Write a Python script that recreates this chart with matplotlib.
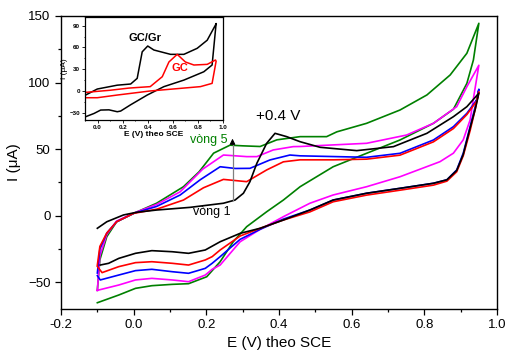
import numpy as np
import matplotlib
matplotlib.use("Agg")
import matplotlib.pyplot as plt
from matplotlib.ticker import MultipleLocator

plt.rcParams['font.family'] = ['Liberation Sans', 'DejaVu Sans']

# cyclic voltammograms, vong 1 .. vong 5 (forward scan then reverse scan)
E_up_black = [-0.1, -0.074, -0.028, 0.008, 0.063, 0.155, 0.247, 0.279, 0.302, 0.32, 0.339, 0.357, 0.366, 0.389,
              0.421, 0.458, 0.513, 0.614, 0.715, 0.807, 0.88, 0.917, 0.95]
I_up_black = [-9.4, -4.5, 0.6, 2.6, 4.3, 6.3, 9.4, 11.8, 16.9, 25.6, 39.4, 49.4, 54.4, 61.9,
              59.4, 55.6, 51.4, 48.9, 51.9, 61.9, 74.4, 81.9, 92]
E_dn_black = [0.95, 0.94, 0.926, 0.907, 0.889, 0.862, 0.825, 0.733, 0.641, 0.549, 0.485, 0.412, 0.348, 0.293,
              0.238, 0.197, 0.151, 0.106, 0.05, 0.005, -0.041, -0.069, -0.092]
I_dn_black = [92, 80, 66, 46, 34, 27, 24.4, 20.6, 16.9, 11.8, 4.3, -3.2, -9.4, -13.2,
              -19.5, -25.7, -28.2, -27, -26.2, -28.2, -32, -35.7, -37]

E_up_red = [-0.1, -0.093, -0.074, -0.047, 0.0, 0.063, 0.137, 0.192, 0.247, 0.311, 0.366, 0.412, 0.458,
            0.55, 0.641, 0.733, 0.825, 0.88, 0.917, 0.944, 0.95]
I_up_red = [-37, -23, -13, -4.5, 1.8, 4.9, 11.8, 21, 27.3, 25.6, 34.4, 40.5, 42,
            42, 42.5, 45.5, 55.5, 65.5, 76, 86, 93]
E_dn_red = [0.95, 0.94, 0.926, 0.907, 0.889, 0.862, 0.825, 0.733, 0.641, 0.549, 0.485, 0.412, 0.348, 0.293,
            0.238, 0.216, 0.197, 0.151, 0.106, 0.05, 0.005, -0.041, -0.087, -0.1]
I_dn_red = [93, 80, 64, 45, 33, 26, 23, 19.2, 15.5, 10.5, 2.9, -3.2, -9.4, -15.2,
            -25.7, -30.7, -33.2, -37, -35.7, -34.5, -35.2, -38.2, -42.7, -38]

E_up_blue = [-0.1, -0.093, -0.074, -0.047, 0.0, 0.063, 0.128, 0.183, 0.238, 0.28, 0.32, 0.375, 0.43, 0.458,
             0.641, 0.733, 0.825, 0.88, 0.917, 0.944, 0.95]
I_up_blue = [-43, -25, -13, -4.5, 1.8, 7, 15.6, 27, 36.8, 35.5, 35.6, 41.9, 45.6, 45,
             43.9, 46.9, 56.9, 66.9, 76.9, 87, 95]
E_dn_blue = [0.95, 0.94, 0.926, 0.907, 0.889, 0.862, 0.825, 0.733, 0.641, 0.549, 0.485, 0.412, 0.348, 0.293,
             0.238, 0.216, 0.197, 0.151, 0.106, 0.05, 0.005, -0.041, -0.092, -0.1]
I_dn_blue = [95, 82, 67, 47, 34.4, 27, 24.4, 20.6, 16.9, 11.8, 4.3, -2.5, -10.2, -17.7,
             -30.7, -35.7, -39.5, -43.2, -42, -40.2, -41.2, -44.5, -48.2, -45]

E_up_mag = [-0.1, -0.093, -0.074, -0.047, 0.0, 0.063, 0.128, 0.19, 0.247, 0.28, 0.311, 0.339, 0.384, 0.439, 0.458,
            0.641, 0.751, 0.825, 0.889, 0.917, 0.95]
I_up_mag = [-56, -30, -14, -4, 2, 8.5, 18, 35, 45.6, 45, 44.4, 44.4, 49.4, 51.9, 52,
            54.4, 60.6, 69.4, 81.9, 96.9, 113]
E_dn_mag = [0.95, 0.935, 0.926, 0.907, 0.88, 0.843, 0.733, 0.641, 0.549, 0.485, 0.412, 0.348, 0.293,
            0.238, 0.216, 0.197, 0.151, 0.106, 0.05, 0.005, -0.041, -0.1]
I_dn_mag = [113, 88, 72, 57, 47, 40.6, 29.3, 21.8, 15.6, 9.4, -0.7, -10.2, -19.5,
            -37, -40.2, -44.5, -49.5, -48.2, -47, -48.2, -52, -56]

E_up_green = [-0.1, -0.093, -0.074, -0.047, 0.0, 0.063, 0.137, 0.18, 0.22, 0.265, 0.30, 0.348, 0.394, 0.458,
              0.531, 0.559, 0.641, 0.733, 0.807, 0.871, 0.917, 0.95]
I_up_green = [-56, -33, -15.7, -4.5, 1.8, 9.4, 21.8, 33, 47, 53, 52.5, 52, 57, 59.4,
              59.4, 63, 69.4, 79.4, 90.7, 105.7, 122, 144.5]
E_dn_green = [0.95, 0.935, 0.917, 0.88, 0.825, 0.733, 0.641, 0.549, 0.458, 0.412, 0.366, 0.311, 0.274,
              0.238, 0.201, 0.151, 0.106, 0.05, 0.005, -0.041, -0.1]
I_dn_green = [144.5, 117, 99.4, 80, 69.4, 56.9, 46.9, 36.8, 21.8, 11.8, 3, -8.2, -19.5,
              -34.5, -45.8, -51, -51.5, -52.5, -54.5, -59.5, -65.3]

# inset: GC/Gr vs GC
E_in_up_gcgr = [-0.095, -0.002, 0.157, 0.264, 0.316, 0.356, 0.40, 0.449, 0.582, 0.688, 0.794, 0.874, 0.94, 0.945]
I_in_up_gcgr = [-5.6, 2.7, 8, 9.6, 17.4, 54, 62, 56.5, 50.5, 50.5, 58.8, 70, 91, 93]
E_in_dn_gcgr = [0.945, 0.913, 0.847, 0.688, 0.529, 0.396, 0.264, 0.184, 0.157, 0.091, 0.025, -0.028, -0.095]
I_in_dn_gcgr = [93, 35.8, 26.5, 15, 6, -5.6, -19, -27.7, -28.6, -26, -26.3, -31, -35.5]

E_in_up_gc = [-0.1, 0.1, 0.25, 0.42, 0.516, 0.569, 0.635, 0.70, 0.768, 0.874, 0.94, 0.945]
I_in_up_gc = [-2, 1, 4, 6, 19.7, 40, 50.5, 40, 35.8, 36.7, 42.7, 41]
E_in_dn_gc = [0.945, 0.913, 0.82, 0.42, 0.157, -0.002, -0.1]
I_in_dn_gc = [41, 10.5, 6, 0, -5.6, -9.3, -9.3]

fig = plt.figure(figsize=(5.08, 3.55), dpi=100)
ax = fig.add_axes([0.1201, 0.1296, 0.8583, 0.8254])

curves = [
    (E_up_green, I_up_green, E_dn_green, I_dn_green, '#008000'),
    (E_up_mag, I_up_mag, E_dn_mag, I_dn_mag, '#ff00ff'),
    (E_up_blue, I_up_blue, E_dn_blue, I_dn_blue, '#0000ff'),
    (E_up_red, I_up_red, E_dn_red, I_dn_red, '#ff0000'),
    (E_up_black, I_up_black, E_dn_black, I_dn_black, 'black'),
]
for e_up, i_up, e_dn, i_dn, c in curves:
    ax.plot(list(e_up) + list(e_dn), list(i_up) + list(i_dn), color=c, lw=1.2)

ax.set_xlim(-0.2, 1.0)
ax.set_ylim(-70, 150)
ax.xaxis.set_major_locator(MultipleLocator(0.2))
ax.xaxis.set_minor_locator(MultipleLocator(0.1))
ax.yaxis.set_major_locator(MultipleLocator(50))
ax.yaxis.set_minor_locator(MultipleLocator(25))
ax.set_xticks([-0.2, 0.0, 0.2, 0.4, 0.6, 0.8, 1.0])
ax.set_xticklabels(['-0.2', '0.0', '0.2', '0.4', '0.6', '0.8', '1.0'])
ax.tick_params(which='both', direction='out', labelsize=9.5, width=0.9)
ax.tick_params(which='major', length=4)
ax.tick_params(which='minor', length=2)
for s in ax.spines.values():
    s.set_linewidth(1.0)
ax.set_xlabel("E (V) theo SCE", fontsize=11, labelpad=3)
ax.set_ylabel("I (\u03bcA)", fontsize=11, labelpad=5)

# annotations
arrow_x = 0.272
ax.plot([arrow_x, arrow_x], [11.5, 55], color='gray', lw=0.9)
ax.annotate('', xy=(arrow_x, 60), xytext=(arrow_x, 52),
            arrowprops=dict(arrowstyle='-|>', color='black', lw=0.8, mutation_scale=8))
ax.text(0.397, 75, "+0.4 V", fontsize=11, ha='center', va='center')
ax.text(0.155, 57, "v\u00f2ng 5", fontsize=9, color='#008000', ha='left', va='center')
ax.text(0.163, 2.5, "v\u00f2ng 1", fontsize=9, color='black', ha='left', va='center')

# inset
axi = fig.add_axes([0.1673, 0.6620, 0.2717, 0.2901])
axi.plot(E_in_up_gcgr + E_in_dn_gcgr, I_in_up_gcgr + I_in_dn_gcgr, color='black', lw=1.1)
axi.plot(E_in_up_gc + E_in_dn_gc, I_in_up_gc + I_in_dn_gc, color='#ff0000', lw=1.1)
axi.set_xlim(-0.1, 1.0)
axi.set_ylim(-40, 102)
axi.xaxis.set_major_locator(MultipleLocator(0.2))
axi.xaxis.set_minor_locator(MultipleLocator(0.1))
axi.yaxis.set_major_locator(MultipleLocator(30))
axi.yaxis.set_minor_locator(MultipleLocator(15))
axi.set_xticks([0.0, 0.2, 0.4, 0.6, 0.8, 1.0])
axi.set_xticklabels(['0.0', '0.2', '0.4', '0.6', '0.8', '1.0'])
axi.tick_params(which='both', direction='out', labelsize=4.5, width=0.6, pad=1.5)
axi.tick_params(which='major', length=2)
axi.tick_params(which='minor', length=1)
for lab in axi.get_xticklabels() + axi.get_yticklabels():
    lab.set_fontweight('bold')
for s in axi.spines.values():
    s.set_linewidth(0.9)
axi.set_xlabel("E (V) theo SCE", fontsize=6, fontweight='bold', labelpad=1)
axi.set_ylabel("I (\u03bcA)", fontsize=6, labelpad=1)
axi.text(0.378, 73, "GC/Gr", fontsize=8, fontweight='bold', ha='center', va='center')
axi.text(0.656, 31.7, "GC", fontsize=8, fontweight='bold', color='#ff0000', ha='center', va='center')

fig.savefig("out.png", dpi=100)
